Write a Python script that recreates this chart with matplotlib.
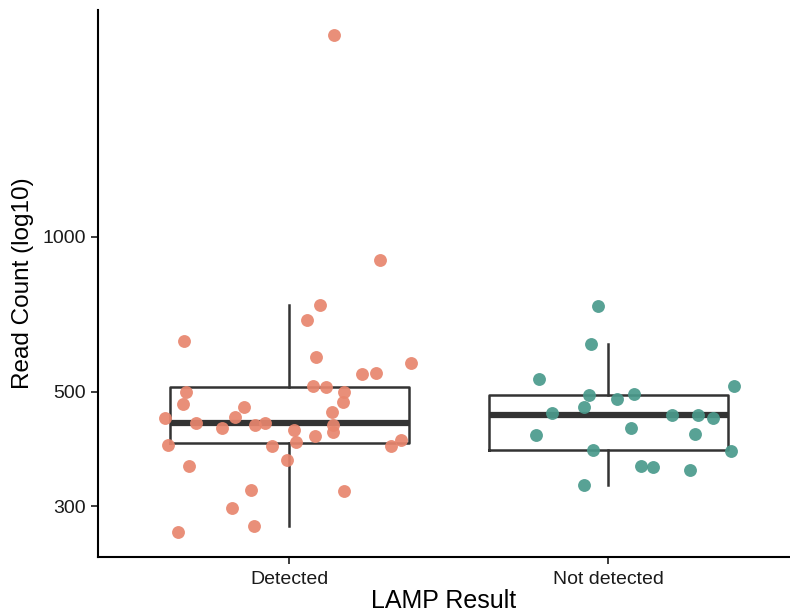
import numpy as np
import matplotlib.pyplot as plt
from matplotlib import cbook
from matplotlib.ticker import FixedLocator, NullLocator

# read counts per LAMP outcome, with the horizontal jitter used for each point
categories = ['Detected', 'Not detected']
detected_counts = [2470, 902, 738, 690, 628, 585, 568, 541, 545, 514, 510, 500, 499,
                   474, 478, 467, 457, 444, 447, 436, 432, 435, 425, 432, 422, 418,
                   411, 399, 403, 395, 392, 393, 368, 359, 322, 321, 298, 274, 267]
detected_jitter = [0.140, 0.285, 0.096, 0.055, -0.331, 0.082, 0.382, 0.227, 0.271, 0.073,
                   0.116, -0.325, 0.172, -0.332, 0.169, -0.143, 0.132, -0.390, -0.171,
                   -0.294, -0.107, -0.075, -0.212, 0.137, 0.013, 0.137, 0.081, 0.021,
                   0.349, -0.382, -0.056, 0.317, -0.009, -0.316, -0.121, 0.172, -0.179,
                   -0.112, -0.348]
not_detected_counts = [735, 620, 530, 514, 493, 495, 484, 468, 455, 451, 450, 444, 426,
                       413, 414, 385, 384, 359, 358, 352, 329]
not_detected_jitter = [-0.034, -0.054, -0.218, 0.393, -0.062, 0.079, 0.027, -0.078, -0.178,
                       0.198, 0.280, 0.328, 0.070, -0.228, 0.270, -0.049, 0.383, 0.101,
                       0.139, 0.257, -0.075]
y_ticks = [300, 500, 1000]

groups = [detected_counts, not_detected_counts]
jitters = [detected_jitter, not_detected_jitter]
colors = ['#E8866E', '#4A9A8C']

plt.rcParams['font.family'] = ['Liberation Sans', 'DejaVu Sans']

fig = plt.figure(figsize=(7.9, 6.14), dpi=100)
ax = fig.add_axes([98 / 790, 57 / 614, 692 / 790, 547 / 614])
ax.set_yscale('log')

# box stats on log10 values, like a log-scaled axis in ggplot
stats = []
for vals in groups:
    s = cbook.boxplot_stats(np.log10(vals), whis=1.5)[0]
    for k in ['med', 'q1', 'q3', 'whislo', 'whishi']:
        s[k] = 10 ** s[k]
    s['fliers'] = []
    s.pop('mean', None)
    stats.append(s)

line_col = '#333333'
ax.bxp(stats, positions=[1, 2], widths=0.75, showfliers=False, showcaps=False,
       boxprops=dict(color=line_col, linewidth=1.8),
       whiskerprops=dict(color=line_col, linewidth=1.8),
       medianprops=dict(color=line_col, linewidth=4.5, solid_capstyle='butt'),
       zorder=2)

for i, (vals, jit) in enumerate(zip(groups, jitters)):
    x = np.array(jit) + i + 1
    ax.scatter(x, vals, s=86, color=colors[i], alpha=0.92, linewidths=0, zorder=3)

# 5% padding on the log scale
lo, hi = np.log10(min(detected_counts + not_detected_counts)), np.log10(max(detected_counts + not_detected_counts))
pad = 0.05 * (hi - lo)
ax.set_ylim(10 ** (lo - pad), 10 ** (hi + pad))
ax.set_xlim(0.4, 0.4 + 692 / 319)

ax.yaxis.set_major_locator(FixedLocator(y_ticks))
ax.yaxis.set_minor_locator(NullLocator())
ax.set_yticklabels([str(t) for t in y_ticks])
ax.set_xticks([1, 2])
ax.set_xticklabels(categories)

ax.spines['top'].set_visible(False)
ax.spines['right'].set_visible(False)
for sp in ['left', 'bottom']:
    ax.spines[sp].set_linewidth(1.5)
ax.tick_params(axis='both', labelsize=14, colors='#1a1a1a', length=5, width=1.2, pad=4)
ax.tick_params(axis='x', pad=5)

ax.set_xlabel('LAMP Result', fontsize=18, labelpad=1)
ax.set_ylabel('Read Count (log10)', fontsize=17.5, labelpad=6)

fig.savefig('out.png', dpi=100)
